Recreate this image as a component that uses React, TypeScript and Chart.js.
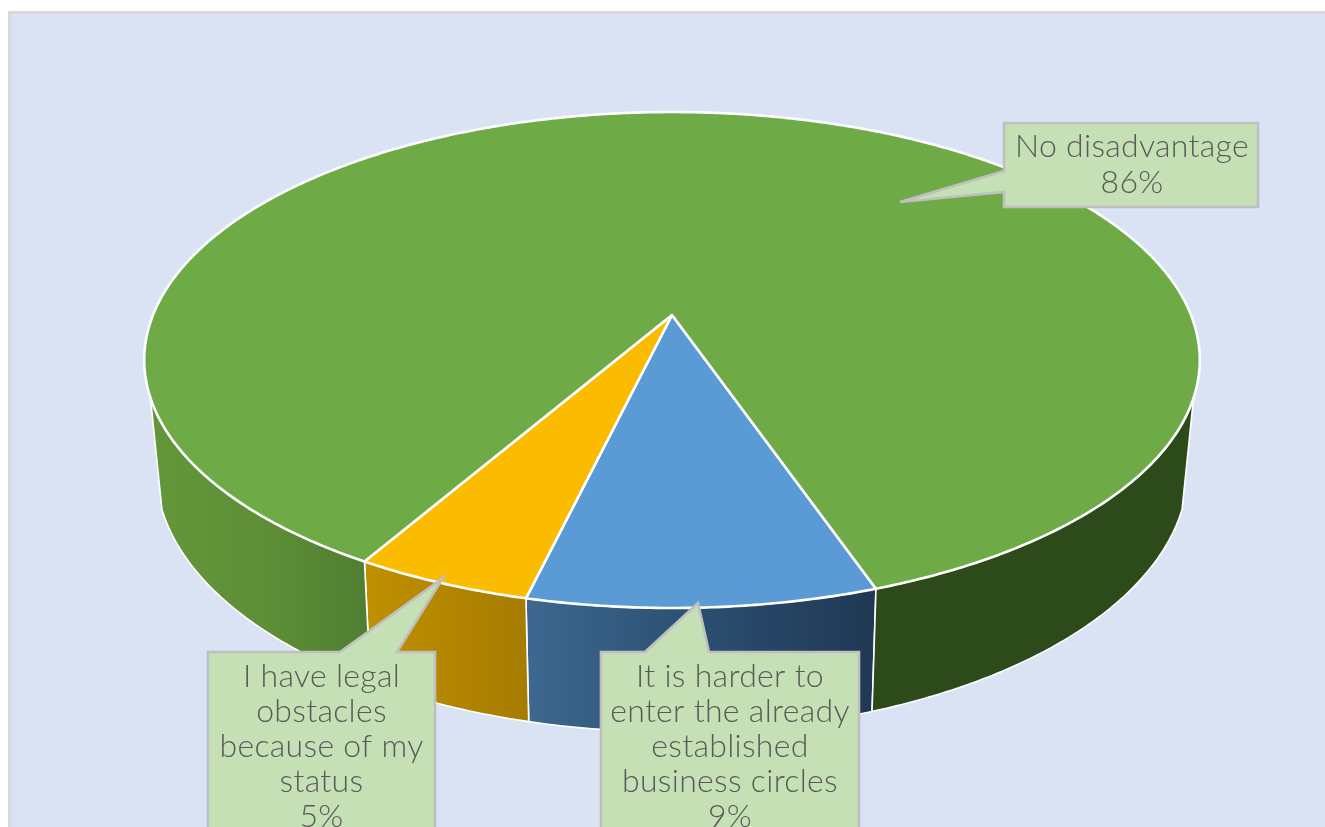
import React, { useEffect, useRef } from "react";
import { Chart, registerables } from "chart.js";

Chart.register(...registerables);

const categories = ["It is harder to enter the already established business circles", "I have legal obstacles because of my status", "No disadvantage"];
const shares = [9.0, 4.6, 86.4];
const topColors = ["#5B9BD5", "#FBBC00", "#6EAB47"];
const labelLines = [
  ["It is harder to", "enter the already", "established", "business circles"],
  ["I have legal", "obstacles", "because of my", "status"],
  ["No disadvantage"],
];
const wallStops = [
  [["#3d6890", 0], ["#2b4e70", 0.5], ["#1f3854", 1]],
  [["#c09000", 0], ["#a67c00", 1]],
];
const wallGreenLeft = [["#649639", 0], ["#5e8f37", 0.5], ["#507e31", 1]];
const wallGreenRight = [["#2d4a1b", 0], ["#2d4a1b", 1]];

const W = 1325;
const H = 827;
const CX = 672;
const WALL_EDGE = (19 * Math.PI) / 180;
const top = { y0: 315, a: 519, b: 239.8, k: 0.1815 };
const bottom = { y0: 421.5, a: 507, b: 253, k: 0.185 };

const callouts = [
  { x: 601, y: 652, w: 258, h: 200, tip: [698, 603], base: [[645, 652], [709, 652]], cx: 730, ly: 677, lh: 34.9 },
  { x: 208, y: 652, w: 227, h: 200, tip: [443, 578], base: [[340, 652], [397, 652]], cx: 321.5, ly: 677, lh: 34.9 },
  { x: 1004, y: 123, w: 254, h: 84, tip: [900, 202], base: [[1004, 192], [1004, 171]], cx: 1132, ly: 147, lh: 36 },
];

type P = typeof top;
const project = (p: P, angle: number) => {
  const u = Math.cos(angle);
  const v = Math.sin(angle);
  const w = 1 - p.k * v;
  return [CX + (p.a * u) / w, p.y0 + (p.b * v) / w];
};

const traceRim = (ctx: CanvasRenderingContext2D, p: P, a0: number, a1: number, first: boolean) => {
  const steps = Math.max(2, Math.ceil(Math.abs(a1 - a0) / (Math.PI / 360)));
  for (let i = 0; i <= steps; i++) {
    const [x, y] = project(p, a0 + ((a1 - a0) * i) / steps);
    if (i === 0 && first) ctx.moveTo(x, y);
    else ctx.lineTo(x, y);
  }
};

const drawWall = (ctx: CanvasRenderingContext2D, a0: number, a1: number, stops: any[]) => {
  const xs = [project(top, a0)[0], project(top, a1)[0], project(bottom, a0)[0], project(bottom, a1)[0]];
  const g = ctx.createLinearGradient(Math.min(...xs), 0, Math.max(...xs), 0);
  stops.forEach(([c, o]) => g.addColorStop(o, c));
  ctx.beginPath();
  traceRim(ctx, top, a0, a1, true);
  traceRim(ctx, bottom, a1, a0, false);
  ctx.closePath();
  ctx.fillStyle = g;
  ctx.fill();
  ctx.strokeStyle = "#ffffff";
  ctx.lineWidth = 1.6;
  ctx.lineJoin = "round";
  ctx.stroke();
};

const pie3d = {
  id: "pie3d",
  beforeDraw(chart: any) {
    const ctx = chart.ctx;
    ctx.save();
    ctx.fillStyle = "#ffffff";
    ctx.fillRect(0, 0, W, H);
    ctx.fillStyle = "#D9D9D9";
    ctx.fillRect(8, 11, W - 8, H - 11);
    ctx.fillStyle = "#DAE3F3";
    ctx.fillRect(11, 14, W - 11, H - 14);
    ctx.restore();
  },
  beforeDatasetDraw() {
    return false;
  },
  afterDatasetsDraw(chart: any) {
    const ctx: CanvasRenderingContext2D = chart.ctx;
    const arcs = chart.getDatasetMeta(0).data;
    const greenIdx = arcs.length - 1;
    ctx.save();
    // side walls: only the part of each slice facing the viewer
    arcs.forEach((arc: any, i: number) => {
      const { startAngle: s, endAngle: e } = arc;
      const leftStart = Math.max(s, WALL_EDGE);
      const leftEnd = Math.min(e, Math.PI - WALL_EDGE);
      if (leftEnd > leftStart) drawWall(ctx, leftStart, leftEnd, i === greenIdx ? wallGreenLeft : wallStops[i]);
      const rightStart = Math.max(s, 2 * Math.PI + WALL_EDGE);
      const rightEnd = Math.min(e, 3 * Math.PI - WALL_EDGE);
      if (rightEnd > rightStart) drawWall(ctx, rightStart, rightEnd, i === greenIdx ? wallGreenRight : wallStops[i]);
    });
    // top surface
    arcs.forEach((arc: any, i: number) => {
      ctx.beginPath();
      ctx.moveTo(CX, top.y0);
      traceRim(ctx, top, arc.startAngle, arc.endAngle, false);
      ctx.closePath();
      ctx.fillStyle = topColors[i];
      ctx.fill();
      ctx.strokeStyle = "#ffffff";
      ctx.lineWidth = 2.6;
      ctx.lineJoin = "round";
      ctx.stroke();
    });
    // callouts
    const total = shares.reduce((a, b) => a + b, 0);
    callouts.forEach((c, i) => {
      const bx0 = c.x, by0 = c.y, bx1 = c.x + c.w, by1 = c.y + c.h;
      ctx.beginPath();
      ctx.moveTo(bx0, by0);
      if (i === 2) {
        ctx.lineTo(bx1, by0);
        ctx.lineTo(bx1, by1);
        ctx.lineTo(bx0, by1);
        ctx.lineTo(c.base[0][0], c.base[0][1]);
        ctx.lineTo(c.tip[0], c.tip[1]);
        ctx.lineTo(c.base[1][0], c.base[1][1]);
      } else {
        ctx.lineTo(c.base[0][0], c.base[0][1]);
        ctx.lineTo(c.tip[0], c.tip[1]);
        ctx.lineTo(c.base[1][0], c.base[1][1]);
        ctx.lineTo(bx1, by0);
        ctx.lineTo(bx1, by1);
        ctx.lineTo(bx0, by1);
      }
      ctx.closePath();
      ctx.fillStyle = "#C5E0B4";
      ctx.fill();
      ctx.strokeStyle = "#BFBFBF";
      ctx.lineWidth = 2.6;
      ctx.lineJoin = "miter";
      ctx.stroke();
      const lines = [...labelLines[i], `${Math.round((shares[i] / total) * 100)}%`];
      ctx.fillStyle = "#595959";
      ctx.font = '300 32px Lato, "Open Sans", sans-serif';
      (ctx as any).letterSpacing = "0.3px";
      ctx.textAlign = "center";
      ctx.textBaseline = "middle";
      lines.forEach((t, j) => ctx.fillText(t, c.cx, c.ly + j * c.lh));
    });
    ctx.restore();
  },
};

export default function App() {
  const ref = useRef<HTMLCanvasElement>(null);
  useEffect(() => {
    const chart = new Chart(ref.current!, {
      type: "pie",
      data: {
        labels: categories,
        datasets: [{ data: shares, backgroundColor: topColors, borderColor: "#ffffff", borderWidth: 2 }],
      },
      options: {
        animation: false,
        responsive: false,
        rotation: 161,
        plugins: { legend: { display: false }, tooltip: { enabled: false }, title: { display: false } },
      },
      plugins: [pie3d],
    } as any);
    return () => chart.destroy();
  }, []);
  return (
    <div style={{ position: "fixed", left: 0, top: 0, width: W, height: H, overflow: "hidden" }}>
      <canvas ref={ref} width={W} height={H} style={{ display: "block", width: W, height: H, filter: "blur(0.5px)" }} />
    </div>
  );
}
